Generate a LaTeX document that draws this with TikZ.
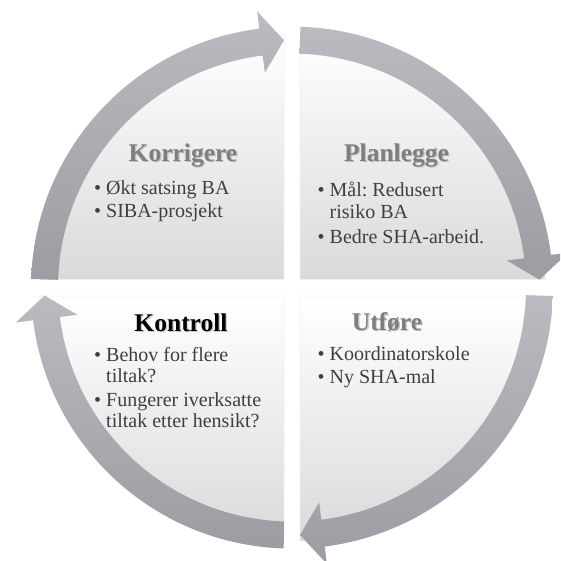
\documentclass[tikz,border=0pt]{standalone}
\usepackage{fontspec}
\setmainfont{Liberation Serif}
\usetikzlibrary{calc}
\frenchspacing

\definecolor{arrowlight}{HTML}{B9BBC1}
\definecolor{arrowdark}{HTML}{9B9DA3}
\definecolor{panelbottom}{HTML}{DADADA}
\definecolor{paneledge}{HTML}{F0F0F0}
\definecolor{titlegray}{HTML}{7F7F7F}
\definecolor{itemgray}{HTML}{3F3F3F}

% ring geometry (pt): mid radius 247.5, body 234..261, head 216.5..278.5
% #1 start angle, #2 angle of the head base, #3 angle of the tip
\newcommand{\cyclearrow}[3]{%
  \shade[top color=arrowlight, bottom color=arrowdark]
    (#1:261) arc[start angle=#1, end angle=#2, radius=261]
    -- (#2:278.5) -- (#3:247.5) -- (#2:216.5) -- (#2:234)
    arc[start angle=#2, end angle=#1, radius=234] -- cycle;
}
% heading with a soft drop shadow: name, position, colour, text
\newcommand{\phasetitle}[4]{%
  \node[phasetitle, text=black!35, opacity=0.6] (#1-shadow) at ($#2+(1.2,-1.2)$) {#4};
  \node[phasetitle, text=#3] (#1) at #2 {#4};
}
\newcommand{\bul}{\makebox[12pt][l]{\textbullet}}

\tikzset{
  phasetitle/.style={font=\fontsize{25.5}{30}\selectfont\bfseries, anchor=base, inner sep=0pt},
  item/.style={font=\fontsize{20}{24}\selectfont, text=itemgray, anchor=base west, inner sep=0pt},
  panel/.style={top color=white, bottom color=panelbottom, draw=paneledge, line width=0.6pt},
}

\begin{document}
\begin{tikzpicture}[x=1pt, y=1pt]
  \useasboundingbox (0,0) rectangle (560,-561);
  \clip (0,0) rectangle (560,-561);

  % four quadrant panels
  \shade[panel] (284,-279.3) -- ++(180:245) arc[start angle=180, end angle=90, radius=245] -- cycle;
  \shade[panel] (300,-279.3) -- ++(90:245) arc[start angle=90, end angle=0, radius=245] -- cycle;
  \shade[panel] (300,-296) -- ++(0:245) arc[start angle=0, end angle=-90, radius=245] -- cycle;
  \shade[panel] (284,-296) -- ++(-90:245) arc[start angle=-90, end angle=-180, radius=245] -- cycle;

  % circular arrows, clockwise
  \coordinate (c) at (292,-287.6);
  \begin{scope}[shift={(c)}]
    \cyclearrow{178.1}{97.2}{91.85}
    \cyclearrow{88.15}{7.2}{1.85}
    \cyclearrow{-1.85}{-82.8}{-88.15}
    \cyclearrow{268.15}{187.2}{181.85}
  \end{scope}

  % headings
  \phasetitle{korrigere}{(183,-161.5)}{titlegray}{Korrigere}
  \phasetitle{planlegge}{(396.5,-161.5)}{titlegray}{Planlegge}
  \phasetitle{kontroll}{(181,-331)}{black}{Kontroll}
  \phasetitle{utfore}{(387,-330)}{titlegray}{Utføre}

  % bullet items (continuation lines start under the item text)
  \node[item] (k1) at (94,-194.5) {\bul Økt satsing BA};
  \node[item] (k2) at (94,-217.7) {\bul SIBA-prosjekt};

  \node[item] (p1) at (317.5,-196.7) {\bul Mål: Redusert};
  \node[item] (p1b) at (329.5,-218.2) {risiko BA};
  \node[item] (p2) at (317.5,-243.3) {\bul Bedre SHA-arbeid.};

  \node[item] (u1) at (317.5,-360.7) {\bul Koordinatorskole};
  \node[item] (u2) at (317.5,-383.3) {\bul Ny SHA-mal};

  \node[item] (t1) at (94,-361.5) {\bul Behov for flere};
  \node[item] (t1b) at (106,-382.3) {tiltak?};
  \node[item] (t2) at (94,-406.7) {\bul Fungerer iverksatte};
  \node[item] (t2b) at (106,-427.8) {tiltak etter hensikt?};
\end{tikzpicture}
\end{document}
